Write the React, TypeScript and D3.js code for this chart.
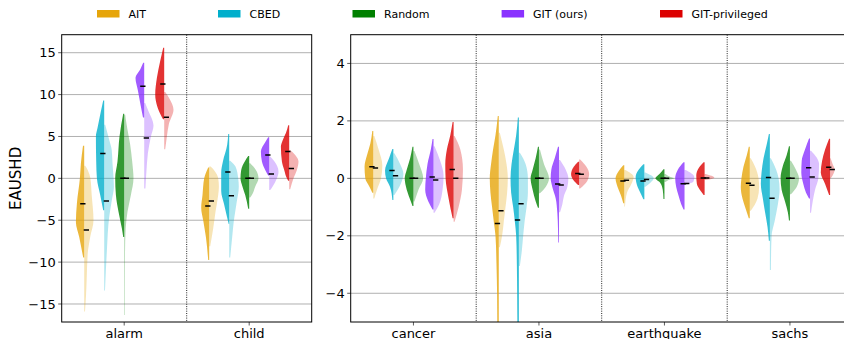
import React from "react";
import * as d3 from "d3";

// ---------- DATA ----------
const methods = ["AIT", "CBED", "Random", "GIT (ours)", "GIT-privileged"];
const methodColors = ["#E6A50A", "#00AFCC", "#008000", "#8A32FF", "#DC0000"];
const leftCategories = ["alarm", "child"];
const rightCategories = ["cancer", "asia", "earthquake", "sachs"];
const leftTicks = [-15, -10, -5, 0, 5, 10, 15];
const rightTicks = [-4, -2, 0, 2, 4];
const leftDomain = [-17.15, 17.15];
const rightDomain = [-5, 5];
const yLabel = "EAUSHD";

type Half = { mean: number; shape: [number, number][] }; // [value, relative half-width]
type Violin = { dark: Half; light: Half };

const alarm: Violin[] = [
  { dark: { mean: -3.03, shape: [[3.9, 0.12], [1.8, 0.33], [0, 0.43], [-3, 0.73], [-5.2, 0.83], [-7, 0.5], [-9.45, 0.1]] },
    light: { mean: -6.18, shape: [[1.5, 0.1], [1, 0.35], [0, 0.62], [-2, 0.75], [-5, 0.93], [-7, 0.6], [-9, 0.35], [-12, 0.25], [-14, 0.18], [-15.9, 0.08]] } },
  { dark: { mean: 2.98, shape: [[9.3, 0.1], [8, 0.33], [6, 0.67], [5, 0.83], [2, 0.8], [0, 0.73], [-2, 0.4], [-3.8, 0.1]] },
    light: { mean: -2.7, shape: [[6.4, 0.1], [4.6, 0.5], [3.4, 0.75], [1.8, 0.83], [-1, 0.97], [-2.7, 0.75], [-4.6, 0.5], [-8.6, 0.27], [-13.4, 0.08]] } },
  { dark: { mean: 0, shape: [[7.7, 0.1], [5, 0.47], [2, 0.67], [0, 0.9], [-2, 0.83], [-4, 0.57], [-6, 0.23], [-7, 0.1]] },
    light: { mean: 0, shape: [[7.6, 0.1], [6, 0.3], [4, 0.6], [2, 0.8], [0, 0.93], [-2, 0.67], [-4, 0.33], [-6, 0.15], [-9, 0.08], [-16.3, 0.06]] } },
  { dark: { mean: 11.0, shape: [[13.8, 0.1], [13, 0.4], [12, 0.87], [10.5, 0.63], [9, 0.4], [7.25, 0.12]] },
    light: { mean: 4.81, shape: [[9, 0.1], [8, 0.43], [6.3, 0.93], [5, 0.67], [3, 0.37], [1, 0.23], [-1.2, 0.12]] } },
  { dark: { mean: 11.27, shape: [[15.6, 0.1], [14, 0.4], [12, 0.73], [10, 0.9], [8.5, 0.67], [7.05, 0.12]] },
    light: { mean: 7.29, shape: [[10.3, 0.1], [9.5, 0.53], [8.2, 0.93], [6.5, 0.47], [5, 0.27], [3.46, 0.1]] } },
];

const child: Violin[] = [
  { dark: { mean: -3.31, shape: [[1.3, 0.1], [0, 0.5], [-2, 0.67], [-3.5, 0.8], [-5, 0.6], [-7, 0.33], [-9.76, 0.1]] },
    light: { mean: -2.71, shape: [[1.4, 0.15], [0.8, 0.6], [0, 0.9], [-1, 0.97], [-2, 0.9], [-4, 0.63], [-6, 0.4], [-8.1, 0.1]] } },
  { dark: { mean: 0.75, shape: [[5.3, 0.1], [4, 0.2], [2, 0.63], [0.7, 0.8], [-1.5, 0.8], [-3, 0.53], [-5.46, 0.05]] },
    light: { mean: -2.07, shape: [[2.1, 0.1], [1.4, 0.63], [0, 0.9], [-1, 0.96], [-3, 0.73], [-5, 0.47], [-7, 0.3], [-9.44, 0.1]] } },
  { dark: { mean: 0, shape: [[2.66, 0.1], [2.1, 0.4], [1, 0.8], [0, 0.87], [-1, 0.67], [-2, 0.4], [-3.63, 0.1]] },
    light: { mean: 0, shape: [[1.8, 0.1], [1, 0.67], [0, 0.93], [-1, 0.6], [-2, 0.27], [-2.3, 0.1]] } },
  { dark: { mean: 2.78, shape: [[4.9, 0.1], [4.3, 0.4], [3.2, 0.83], [2, 0.73], [1, 0.4], [0.35, 0.1]] },
    light: { mean: 0.51, shape: [[2.6, 0.1], [2, 0.53], [0.8, 0.93], [0, 0.77], [-1, 0.33], [-1.4, 0.1]] } },
  { dark: { mean: 3.22, shape: [[6.33, 0.1], [5.4, 0.33], [4.5, 0.67], [3.8, 0.83], [2, 0.73], [1, 0.5], [0, 0.23], [-0.28, 0.1]] },
    light: { mean: 1.19, shape: [[3.38, 0.1], [2.8, 0.6], [2, 0.93], [1, 0.77], [0, 0.43], [-1.31, 0.1]] } },
];

const cancer: Violin[] = [
  { dark: { mean: 0.4, shape: [[1.65, 0.1], [1.2, 0.3], [0.8, 0.63], [0.4, 0.87], [0, 0.8], [-0.3, 0.37], [-0.5, 0.1]] },
    light: { mean: 0.36, shape: [[1.47, 0.1], [1, 0.53], [0.45, 0.9], [0, 0.77], [-0.4, 0.37], [-0.7, 0.1]] } },
  { dark: { mean: 0.27, shape: [[1.02, 0.1], [0.7, 0.43], [0.27, 0.83], [0, 0.73], [-0.3, 0.33], [-0.75, 0.1]] },
    light: { mean: 0.09, shape: [[0.87, 0.1], [0.5, 0.67], [0.15, 1.0], [-0.2, 0.73], [-0.58, 0.1]] } },
  { dark: { mean: 0, shape: [[1.1, 0.1], [0.7, 0.33], [0.3, 0.67], [0, 0.87], [-0.4, 0.67], [-0.8, 0.27], [-0.96, 0.1]] },
    light: { mean: 0, shape: [[0.95, 0.1], [0.5, 0.57], [0, 0.97], [-0.4, 0.5], [-0.81, 0.1]] } },
  { dark: { mean: 0.05, shape: [[1.37, 0.1], [1, 0.27], [0.5, 0.6], [0, 0.77], [-0.4, 0.83], [-0.8, 0.53], [-1.08, 0.1]] },
    light: { mean: -0.06, shape: [[1.12, 0.1], [0.6, 0.67], [0.1, 1.0], [-0.4, 0.9], [-0.9, 0.57], [-1.2, 0.1]] } },
  { dark: { mean: 0.31, shape: [[1.96, 0.1], [1.5, 0.33], [1, 0.67], [0.5, 0.83], [0, 0.8], [-0.7, 0.5], [-1.39, 0.1]] },
    light: { mean: 0.0, shape: [[1.47, 0.1], [1, 0.67], [0.3, 0.93], [-0.4, 0.83], [-1, 0.5], [-1.51, 0.1]] } },
];

const asia: Violin[] = [
  { dark: { mean: -1.57, shape: [[2.17, 0.1], [1.5, 0.33], [1, 0.57], [0.5, 0.77], [0, 0.9], [-0.5, 0.83], [-1, 0.67], [-1.5, 0.5], [-2, 0.33], [-3, 0.23], [-4, 0.17], [-5, 0.15], [-5.6, 0.1]] },
    light: { mean: -1.13, shape: [[1.59, 0.1], [1, 0.5], [0.5, 0.77], [0, 0.9], [-0.5, 0.83], [-1, 0.67], [-1.5, 0.5], [-2, 0.33], [-2.4, 0.1]] } },
  { dark: { mean: -1.45, shape: [[2.12, 0.1], [1.5, 0.27], [1, 0.5], [0.5, 0.73], [0, 0.83], [-0.5, 0.77], [-1, 0.57], [-1.5, 0.4], [-2, 0.27], [-3, 0.2], [-4, 0.17], [-5, 0.15], [-5.6, 0.1]] },
    light: { mean: -0.88, shape: [[0.89, 0.1], [0.5, 0.67], [0, 0.9], [-0.5, 0.9], [-1, 0.77], [-1.5, 0.57], [-2, 0.43], [-2.5, 0.3], [-3.05, 0.1]] } },
  { dark: { mean: 0, shape: [[1.1, 0.1], [0.7, 0.33], [0.3, 0.63], [0, 0.83], [-0.4, 0.63], [-0.8, 0.33], [-1.02, 0.1]] },
    light: { mean: 0, shape: [[1.0, 0.1], [0.5, 0.5], [0, 1.0], [-0.3, 0.67], [-0.52, 0.1]] } },
  { dark: { mean: -0.2, shape: [[1.1, 0.1], [0.7, 0.43], [0.3, 0.77], [0, 0.83], [-0.3, 0.67], [-0.7, 0.33], [-1.2, 0.17], [-1.8, 0.1], [-2.23, 0.07]] },
    light: { mean: -0.23, shape: [[0.64, 0.1], [0.3, 0.67], [0, 0.93], [-0.3, 0.83], [-0.6, 0.5], [-0.9, 0.33], [-1.18, 0.1]] } },
  { dark: { mean: 0.17, shape: [[0.58, 0.1], [0.4, 0.53], [0.15, 0.8], [-0.05, 0.6], [-0.23, 0.1]] },
    light: { mean: 0.14, shape: [[0.66, 0.1], [0.4, 0.73], [0.15, 1.0], [-0.1, 0.8], [-0.35, 0.1]] } },
];

const earthquake: Violin[] = [
  { dark: { mean: -0.09, shape: [[0.46, 0.1], [0.25, 0.57], [0, 0.87], [-0.3, 0.67], [-0.6, 0.33], [-0.87, 0.1]] },
    light: { mean: -0.07, shape: [[0.29, 0.1], [0.05, 0.93], [-0.2, 0.7], [-0.5, 0.27], [-0.98, 0.07]] } },
  { dark: { mean: -0.09, shape: [[0.49, 0.1], [0.3, 0.57], [0.05, 0.87], [-0.3, 0.67], [-0.55, 0.33], [-0.73, 0.1]] },
    light: { mean: -0.04, shape: [[0.2, 0.1], [0, 0.93], [-0.15, 0.6], [-0.29, 0.1]] } },
  { dark: { mean: 0, shape: [[0.32, 0.1], [0.15, 0.5], [0, 0.9], [-0.15, 0.43], [-0.4, 0.17], [-0.72, 0.1]] },
    light: { mean: 0, shape: [[0.15, 0.1], [0.05, 0.6], [0, 0.97], [-0.05, 0.5], [-0.13, 0.1]] } },
  { dark: { mean: -0.19, shape: [[0.56, 0.1], [0.3, 0.67], [0, 0.93], [-0.3, 0.83], [-0.6, 0.6], [-0.9, 0.33], [-1.08, 0.1]] },
    light: { mean: -0.18, shape: [[0.29, 0.1], [0.05, 0.97], [-0.1, 0.9], [-0.23, 0.1]] } },
  { dark: { mean: 0.01, shape: [[0.56, 0.1], [0.35, 0.6], [0.1, 0.83], [-0.2, 0.77], [-0.45, 0.37], [-0.58, 0.1]] },
    light: { mean: 0.01, shape: [[0.15, 0.1], [0.02, 0.97], [-0.06, 0.1]] } },
];

const sachs: Violin[] = [
  { dark: { mean: -0.17, shape: [[1.1, 0.1], [0.8, 0.3], [0.4, 0.63], [0, 0.83], [-0.3, 0.9], [-0.7, 0.73], [-1, 0.47], [-1.39, 0.1]] },
    light: { mean: -0.24, shape: [[0.7, 0.1], [0.4, 0.53], [0, 0.87], [-0.3, 0.93], [-0.7, 0.77], [-1.13, 0.1]] } },
  { dark: { mean: 0.03, shape: [[1.54, 0.1], [1.2, 0.3], [0.7, 0.63], [0.2, 0.83], [-0.2, 0.9], [-0.7, 0.7], [-1.2, 0.47], [-1.7, 0.23], [-2.17, 0.1]] },
    light: { mean: -0.69, shape: [[0.7, 0.1], [0.3, 0.63], [0, 0.87], [-0.4, 0.97], [-0.9, 0.8], [-1.5, 0.47], [-2, 0.17], [-3.19, 0.1]] } },
  { dark: { mean: 0, shape: [[1.12, 0.1], [0.8, 0.33], [0.4, 0.73], [0, 0.93], [-0.4, 0.83], [-0.8, 0.5], [-1.2, 0.2], [-1.47, 0.1]] },
    light: { mean: 0, shape: [[0.61, 0.1], [0.3, 0.6], [0, 0.9], [-0.3, 0.67], [-0.55, 0.1]] } },
  { dark: { mean: 0.37, shape: [[1.39, 0.1], [1, 0.5], [0.6, 0.83], [0.2, 0.87], [-0.2, 0.67], [-0.5, 0.4], [-0.7, 0.1]] },
    light: { mean: 0.05, shape: [[0.96, 0.1], [0.5, 0.9], [0, 0.83], [-0.4, 0.5], [-0.8, 0.27], [-1.2, 0.1]] } },
  { dark: { mean: 0.39, shape: [[1.38, 0.1], [1, 0.5], [0.6, 0.8], [0.2, 0.93], [-0.2, 0.5], [-0.58, 0.1]] },
    light: { mean: 0.31, shape: [[0.7, 0.05], [0.5, 0.25], [0.3, 0.45], [0.1, 0.25], [0, 0.05]] } },
];

const leftData = [alarm, child];
const rightData = [cancer, asia, earthquake, sachs];

// ---------- LAYOUT ----------
const W = 844;
const H = 339;
const TOP = 34.7;
const BOTTOM = 322;
const FONT = "DejaVu Sans, sans-serif";
const legendX = [97, 218, 352.5, 501.6, 660];

type PanelProps = {
  x0: number;
  x1: number;
  cats: string[];
  data: Violin[][];
  domain: number[];
  ticks: number[];
  id: string;
};

const fmt = (v: number) => (v < 0 ? "\u2212" + Math.abs(v) : String(v));

function Panel({ x0, x1, cats, data, domain, ticks, id }: PanelProps) {
  const x = d3.scaleLinear().domain([-0.5, cats.length - 0.5]).range([x0, x1]);
  const y = d3.scaleLinear().domain(domain).range([BOTTOM, TOP]);
  const band = d3.scaleBand<string>().domain(methods).range([-0.4, 0.4]);
  const halfW = x(band.bandwidth() / 2) - x(0);
  const w = d3.scaleLinear().domain([0, 1]).range([0, halfW]);

  const halfPath = (c: number, h: Half, side: number) =>
    d3
      .area<[number, number]>()
      .y((d) => y(d[0]))
      .x0(c)
      .x1((d) => c + side * w(d[1]))
      .curve(d3.curveMonotoneY)(h.shape) || "";

  return (
    <g>
      <defs>
        <clipPath id={id}>
          <rect x={x0} y={TOP} width={x1 - x0} height={BOTTOM - TOP} />
        </clipPath>
      </defs>
      {ticks.map((t) => (
        <g key={t}>
          <line x1={x0} x2={x1} y1={y(t)} y2={y(t)} stroke="#b0b0b0" strokeWidth={1} />
          <line x1={x0 - 3.5} x2={x0} y1={y(t)} y2={y(t)} stroke="#333" strokeWidth={0.8} />
          <text x={x0 - 6} y={y(t)} dy="0.35em" textAnchor="end" fontSize={13} fontFamily={FONT} fill="#000">
            {fmt(t)}
          </text>
        </g>
      ))}
      {cats.slice(0, -1).map((_, i) => (
        <line key={i} x1={x(i + 0.5)} x2={x(i + 0.5)} y1={TOP} y2={BOTTOM} stroke="#222" strokeWidth={1} strokeDasharray="1,1.3" />
      ))}
      <g clipPath={`url(#${id})`}>
        {data.map((cat, ci) =>
          cat.map((v, mi) => {
            const c = x(ci + (band(methods[mi]) as number) + band.bandwidth() / 2);
            const col = methodColors[mi];
            return (
              <g key={`${ci}-${mi}`}>
                <path d={halfPath(c, v.dark, -1)} fill={col} fillOpacity={0.8} />
                <path d={halfPath(c, v.light, 1)} fill={col} fillOpacity={0.3} />
                <line x1={c - 4} x2={c + 1.3} y1={y(v.dark.mean)} y2={y(v.dark.mean)} stroke="#000" strokeWidth={1.5} />
                <line x1={c - 0.5} x2={c + 4.8} y1={y(v.light.mean)} y2={y(v.light.mean)} stroke="#000" strokeWidth={1.5} />
              </g>
            );
          })
        )}
      </g>
      {cats.map((c, i) => (
        <g key={c}>
          <line x1={x(i)} x2={x(i)} y1={BOTTOM} y2={BOTTOM + 3.5} stroke="#333" strokeWidth={0.8} />
          <text x={x(i)} y={BOTTOM + 15.5} textAnchor="middle" fontSize={13} fontFamily={FONT} fill="#000">
            {c}
          </text>
        </g>
      ))}
      <rect x={x0} y={TOP} width={x1 - x0} height={BOTTOM - TOP} fill="none" stroke="#000" strokeWidth={1} />
    </g>
  );
}

export default function App() {
  return (
    <svg
      width={W}
      height={H}
      viewBox={`0 0 ${W} ${H}`}
      style={{ position: "absolute", left: 0, top: 0, background: "#fff", overflow: "hidden" }}
    >
      <rect x={0} y={0} width={W} height={H} fill="#fff" />
      <Panel x0={61.7} x1={311.7} cats={leftCategories} data={leftData} domain={leftDomain} ticks={leftTicks} id="clipL" />
      <Panel x0={350.7} x1={852.7} cats={rightCategories} data={rightData} domain={rightDomain} ticks={rightTicks} id="clipR" />
      <text
        transform={`translate(16,${(TOP + BOTTOM) / 2}) rotate(-90)`}
        textAnchor="middle"
        dy="0.35em"
        fontSize={15}
        fontFamily={FONT}
        fill="#000"
      >
        {yLabel}
      </text>
      {methods.map((m, i) => (
        <g key={m}>
          <rect x={legendX[i]} y={10} width={22.5} height={7.5} fill={methodColors[i]} />
          <text x={legendX[i] + 31.5} y={18.2} fontSize={11} fontFamily={FONT} fill="#000">
            {m}
          </text>
        </g>
      ))}
    </svg>
  );
}
